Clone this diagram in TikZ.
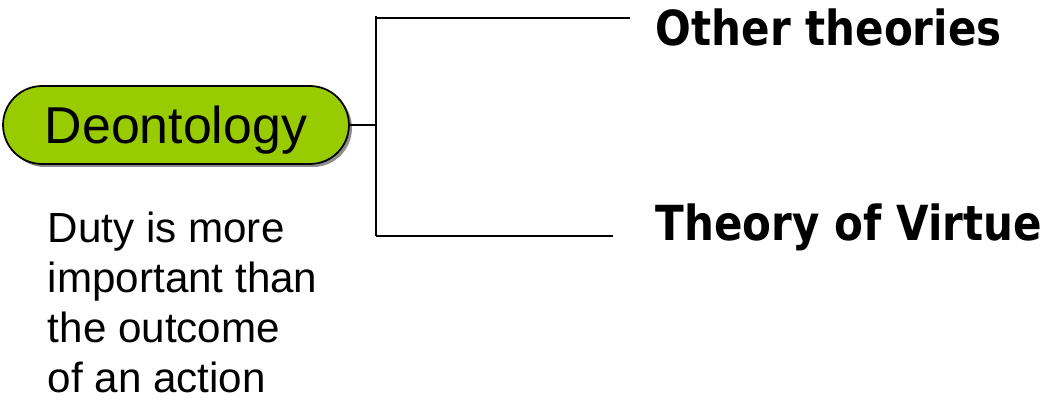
\documentclass[tikz,border=0pt]{standalone}
\usepackage{fontspec}
\setmainfont{Liberation Sans}
\newfontfamily\headfont[FakeStretch=0.87]{DejaVu Sans}
\usetikzlibrary{shadows}
\definecolor{leafgreen}{HTML}{99CC00}

\begin{document}
\begin{tikzpicture}[
  x=0.02cm,y=-0.02cm,
  line width=1pt,
  topic/.style={draw,fill=leafgreen,rounded corners=0.78cm,minimum width=6.92cm,minimum height=1.56cm,
    inner sep=0pt,text depth=0pt,font=\fontsize{29.5}{30}\selectfont,
    drop shadow={shadow xshift=0.06cm,shadow yshift=-0.06cm,fill=black!45,opacity=1}},
  branch/.style={anchor=base west,inner sep=0pt,font=\headfont\bfseries\fontsize{27.5}{30}\selectfont},
  note/.style={anchor=base west,inner sep=0pt,align=left,font=\fontsize{24}{28.35}\selectfont}
]
\useasboundingbox (0,0) rectangle (1054,410);

% --- Nodes ---
\node[topic] (D) at (176,125) {Deontology};
% base of the last line
\node[note] (N) at (47,392) {Duty is more\\important than\\the outcome\\of an action};

% branches
\node[branch] (OT) at (655,45)  {Other theories};
\node[branch] (TV) at (655,240) {Theory of Virtue};

% --- Bracket ---
\coordinate (fork) at (376,125);
\coordinate (top)  at (376,16);
\coordinate (bot)  at (376,236);
\coordinate (OTend) at (630,18);
\coordinate (TVend) at (613,236);

\draw (D.east) -- (fork);
\draw (top) -- (bot);
\draw (top |- OTend) -- (OTend);
\draw (bot) -- (TVend);

\end{tikzpicture}
\end{document}
